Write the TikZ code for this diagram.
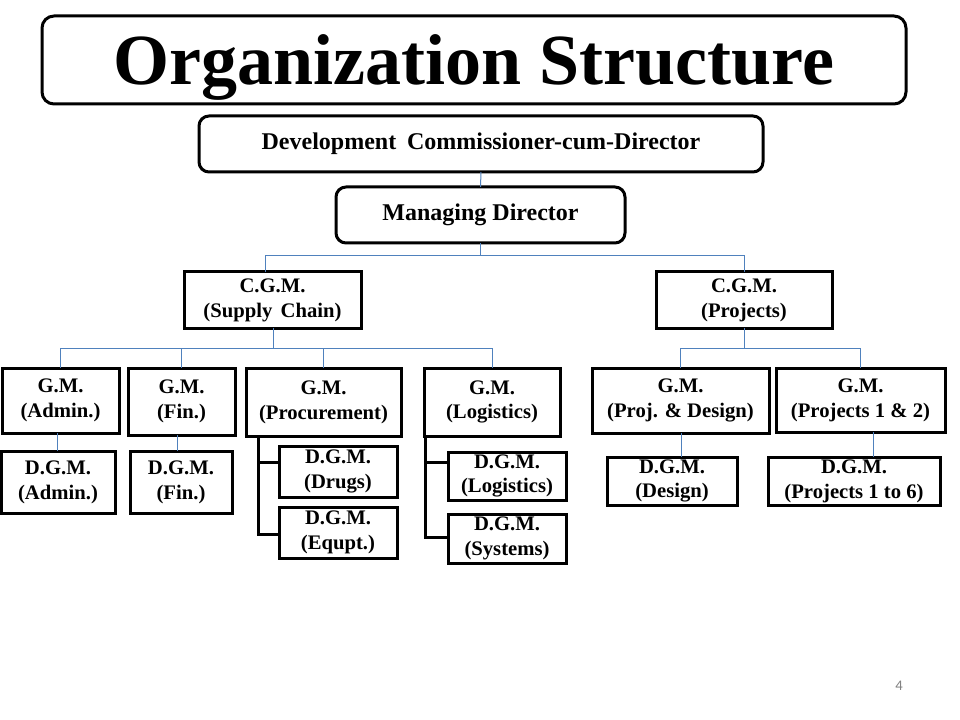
\documentclass[tikz,border=0pt]{standalone}
\usepackage{fontspec}
\setmainfont{Liberation Serif}
\setsansfont{Carlito}
\definecolor{linkblue}{RGB}{79,129,189}
\tikzset{
  box/.style={draw=black, line width=2.25pt, inner sep=0pt, outer sep=0pt, align=center,
    font=\bfseries\fontsize{15.5}{18.6}\selectfont},
  rbox/.style={box, rounded corners=7.5pt, font=\bfseries\fontsize{18}{21}\selectfont},
  sz/.style 2 args={minimum width=#1*0.75pt, minimum height=#2*0.75pt},
  link/.style={draw=linkblue, line width=0.75pt},
  bracket/.style={draw=black, line width=2.25pt, line join=miter},
}
\begin{document}
\begin{tikzpicture}[x=0.75pt, y=-0.75pt]
\useasboundingbox (0,0) rectangle (960,720);
% top boxes
\node[rbox, rounded corners=9pt, sz={864}{88}] (title) at (474,60)
  {\raisebox{-18.75pt}[0pt][0pt]{\fontsize{54}{60}\selectfont Organization Structure}};
\node[rbox, sz={564}{56}] (dcd) at (481,144) {Development\hspace{0.45em}Commissioner-cum-Director};
\node[rbox, sz={289}{56}] (md) at (480.5,215) {Managing Director};
% C.G.M.
\node[box, sz={177}{56}] (cgmsc) at (272.5,300) {C.G.M.\\(Supply\hspace{0.4em}Chain)};
\node[box, sz={176}{56}] (cgmp) at (744,300) {C.G.M.\\(Projects)};
% G.M.
\node[box, sz={117}{65}] (gmadmin) at (60.5,400.5) {G.M.\\(Admin.)};
\node[box, sz={107}{67}] (gmfin) at (181.5,401.5) {G.M.\\(Fin.)};
\node[box, sz={155}{68}] (gmproc) at (323.5,402) {G.M.\\(Procurement)};
\node[box, sz={136}{68}] (gmlog) at (492,402) {G.M.\\(Logistics)};
\node[box, sz={177}{65}] (gmpd) at (680.5,400.5) {G.M.\\(Proj. \& Design)};
\node[box, sz={169}{64}] (gmp12) at (860.5,400) {G.M.\\(Projects 1 \& 2)};
% D.G.M.
\node[box, sz={114}{62}] (dgmadmin) at (58,482) {D.G.M.\\(Admin.)};
\node[box, sz={102}{62}] (dgmfin) at (181,482) {D.G.M.\\(Fin.)};
\node[box, sz={118}{51}] (dgmdrug) at (338,471.5) {D.G.M.\\(Drugs)};
\node[box, sz={118}{51}] (dgmequ) at (338,532.5) {D.G.M.\\(Equpt.)};
\node[box, sz={118}{48}] (dgmlog) at (507,476) {D.G.M.\\(Logistics)};
\node[box, sz={118}{49}] (dgmsys) at (507,538.5) {D.G.M.\\(Systems)};
\node[box, sz={130}{48}] (dgmdes) at (672,481) {D.G.M.\\(Design)};
\node[box, sz={172}{48}] (dgmp16) at (854,481) {D.G.M.\\(Projects 1 to 6)};
% page number
\node[font=\sffamily\fontsize{11}{13}\selectfont, text=gray, inner sep=0pt] (pg) at (899,686) {4};
% connectors
\draw[link] (dcd.south) -- (md.north);
\draw[link] (md.south) -- (md.south |- 0,256);
\draw[link] (cgmsc.north -| 265,0) |- (cgmp.north |- 0,256) -- (cgmp.north);
\draw[link] (cgmsc.south -| 273,0) -- (273,348);
\draw[link] (gmadmin.north) |- (gmlog.north |- 0,348) -- (gmlog.north);
\draw[link] (gmfin.north) -- (gmfin.north |- 0,348);
\draw[link] (gmproc.north) -- (gmproc.north |- 0,348);
\draw[link] (cgmp.south) -- (cgmp.south |- 0,348);
\draw[link] (gmpd.north) |- (gmp12.north |- 0,348) -- (gmp12.north);
\draw[link] (gmadmin.south -| 57,0) -- (dgmadmin.north -| 57,0);
\draw[link] (gmfin.south -| 177,0) -- (dgmfin.north -| 177,0);
\draw[link] (gmpd.south -| 681,0) -- (dgmdes.north -| 681,0);
\draw[link] (gmp12.south -| 873,0) -- (dgmp16.north -| 873,0);
% brackets
\draw[bracket] (gmproc.south -| 258,0) |- (dgmequ.west |- 0,534);
\draw[bracket] (258,462) -- (dgmdrug.west |- 0,462);
\draw[bracket] (gmlog.south -| 425,0) |- (dgmsys.west |- 0,537);
\draw[bracket] (425,462) -- (dgmlog.west |- 0,462);
\end{tikzpicture}
\end{document}
